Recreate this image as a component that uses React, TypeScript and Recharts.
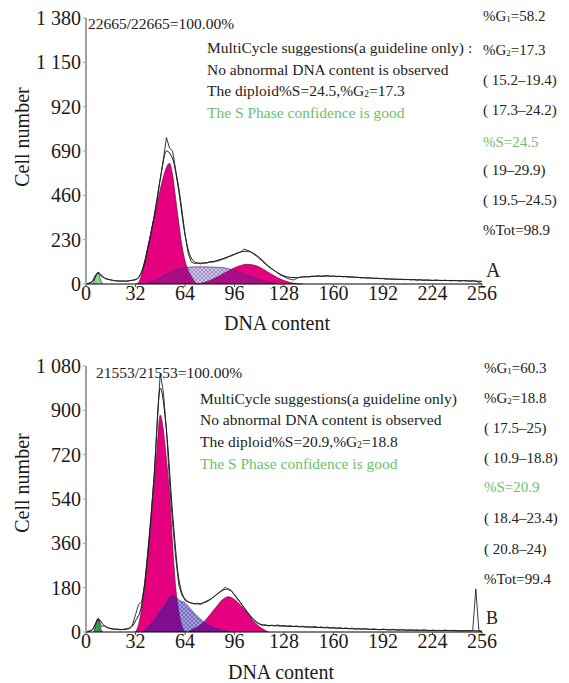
import React from 'react';
import { ComposedChart, Area, Line, XAxis, YAxis } from 'recharts';

// histogram values every 2 channels, fitted model every 4 channels
const HIST_STEP = 2;
const FIT_STEP = 4;

const X_TICKS = [0, 32, 64, 96, 128, 160, 192, 224, 256];
const Y_TICKS_A = [0, 230, 460, 690, 920, 1150, 1380];
const Y_TICKS_B = [0, 180, 360, 540, 720, 900, 1080];

const histA = [
  2, 4, 12, 45, 62, 38, 32, 26, 21, 18, 16, 14, 16, 13, 17, 20,
  24, 32, 62, 105, 185, 265, 345, 435, 545, 645, 760, 705, 690, 590, 500, 385,
  260, 160, 115, 106, 110, 104, 112, 108, 117, 113, 118, 121, 128, 132, 140, 146,
  153, 160, 167, 181, 176, 170, 158, 146, 132, 118, 102, 90, 78, 68, 56, 46,
  38, 30, 24, 21, 28, 35, 37, 39, 36, 41, 40, 43, 39, 42, 44, 40,
  42, 38, 41, 37, 39, 35, 38, 34, 35, 31, 33, 30, 32, 28, 31, 27,
  29, 25, 27, 24, 26, 23, 25, 22, 24, 21, 23, 20, 22, 19, 21, 20,
  18, 21, 19, 17, 20, 18, 16, 19, 17, 15, 18, 16, 14, 17, 15, 8,
  0,
];

const fitA = [
  0, 12, 58, 30, 21, 16, 15, 17, 22, 65, 190, 350, 545, 690, 650, 480,
  255, 135, 108, 108, 113, 120, 130, 142, 155, 166, 170, 160, 138, 108, 80, 58,
  42, 34, 33, 36, 38, 40, 41, 41, 40, 39, 38, 36, 34, 32, 31, 29,
  28, 26, 25, 24, 23, 22, 21, 20, 19, 19, 18, 18, 17, 17, 16, 15,
  14,
];

type Pair = [number, number];

const g1A: Pair[] = [
  [32, 0], [34, 8], [36, 50], [38, 115], [40, 190], [42, 268], [44, 345], [46, 420],
  [48, 490], [50, 555], [52, 605], [54, 626], [56, 565], [58, 440], [60, 315],
  [62, 200], [64, 120], [66, 72], [68, 40], [70, 15], [72, 0],
];
const sA: Pair[] = [
  [36, 0], [40, 5], [44, 16], [48, 32], [52, 50], [56, 64], [60, 76], [64, 84],
  [68, 88], [72, 89], [76, 89], [80, 88], [84, 87], [88, 85], [92, 79], [96, 70],
  [100, 58], [104, 46], [108, 34], [112, 23], [116, 14], [120, 7], [124, 2], [128, 0],
];
const g2A: Pair[] = [
  [72, 0], [76, 7], [80, 18], [84, 32], [88, 50], [92, 68], [96, 84], [100, 96],
  [104, 102], [108, 99], [112, 88], [116, 70], [120, 50], [124, 32], [128, 18],
  [132, 8], [136, 2], [140, 0],
];
const debrisA: Pair[] = [[4, 0], [5, 8], [6, 32], [7, 55], [8, 62], [9, 30], [10, 8], [11, 0]];

const histB = [
  2, 3, 8, 30, 55, 22, 26, 18, 13, 10, 12, 9, 11, 13, 16, 28,
  70, 112, 122, 200, 330, 470, 630, 840, 1050, 975, 820, 610, 440, 300, 190, 150,
  128, 122, 118, 114, 117, 112, 120, 126, 132, 140, 150, 160, 170, 182, 172, 166,
  150, 132, 118, 100, 82, 66, 50, 40, 32, 27, 30, 24, 28, 25, 29, 24,
  27, 23, 26, 22, 25, 21, 24, 20, 22, 19, 23, 18, 21, 17, 20, 16,
  19, 15, 18, 14, 17, 13, 16, 12, 15, 11, 14, 12, 10, 13, 11, 9,
  12, 10, 8, 11, 9, 7, 10, 8, 6, 9, 7, 8, 6, 9, 7, 5,
  8, 6, 7, 5, 8, 6, 5, 7, 5, 6, 4, 6, 5, 6, 175, 4,
  0,
];

const fitB = [
  0, 8, 52, 24, 14, 11, 10, 14, 45, 110, 320, 630, 990, 820, 480, 215,
  135, 118, 114, 118, 130, 150, 168, 175, 152, 118, 84, 54, 34, 27, 26, 25,
  24, 23, 22, 21, 20, 19, 18, 17, 16, 15, 14, 13, 12, 12, 11, 10,
  10, 9, 9, 8, 8, 7, 7, 7, 6, 6, 6, 6, 5, 5, 5, 5,
  4,
];

const g1B: Pair[] = [
  [32, 0], [34, 30], [36, 95], [38, 180], [40, 310], [42, 440], [44, 590], [46, 750],
  [48, 881], [50, 820], [52, 700], [54, 560], [56, 350], [58, 180], [60, 80],
  [62, 25], [64, 0],
];
const sB: Pair[] = [
  [36, 0], [40, 20], [44, 50], [48, 85], [52, 120], [56, 150], [58, 142], [60, 130],
  [64, 118], [68, 90], [72, 64], [76, 42], [80, 26], [84, 15], [88, 8], [92, 3], [96, 0],
];
const g2B: Pair[] = [
  [66, 0], [68, 8], [72, 20], [76, 40], [80, 69], [84, 100], [88, 130], [92, 143],
  [96, 132], [100, 108], [104, 78], [108, 46], [112, 22], [116, 6], [118, 0],
];
const debrisB: Pair[] = [[5, 0], [6, 20], [7, 50], [8, 56], [9, 25], [10, 5], [11, 0]];

const MAGENTA = '#e4007f';
const GREEN_TEXT = '#6cc06c';
const SERIF = '"Liberation Serif", "DejaVu Serif", serif';
const NOTE_SIZE = 15.5;

function buildTable(hist: number[], fit: number[], g1: Pair[], s: Pair[], g2: Pair[], debris: Pair[]) {
  const rows = new Map<number, any>();
  const row = (ch: number) => {
    if (!rows.has(ch)) rows.set(ch, { ch });
    return rows.get(ch);
  };
  hist.forEach((v, i) => (row(i * HIST_STEP).hist = v));
  fit.forEach((v, i) => (row(i * FIT_STEP).fit = v));
  g1.forEach(([c, v]) => (row(c).g1 = v));
  s.forEach(([c, v]) => (row(c).s = v));
  g2.forEach(([c, v]) => (row(c).g2 = v));
  debris.forEach(([c, v]) => (row(c).debris = v));
  return [...rows.values()].sort((a, b) => a.ch - b.ch);
}

const tableA = buildTable(histA, fitA, g1A, sA, g2A, debrisA);
const tableB = buildTable(histB, fitB, g1B, sB, g2B, debrisB);

function fmtY(v: number): string {
  if (v >= 1000) return `${Math.floor(v / 1000)} ${String(v % 1000).padStart(3, '0')}`;
  return String(v);
}

const Sub = ({ children }: { children: React.ReactNode }) => (
  <span style={{ fontSize: '0.6em', verticalAlign: '-0.1em' }}>{children}</span>
);

function Note({ x, y, size = NOTE_SIZE, color = '#222', children }: any) {
  return (
    <div
      style={{
        position: 'absolute', left: x, top: y - size / 2, fontSize: size, lineHeight: `${size}px`,
        color, whiteSpace: 'nowrap', fontFamily: SERIF,
      }}
    >
      {children}
    </div>
  );
}

interface PanelProps {
  data: any[];
  yMax: number;
  yTicks: number[];
  top: number;
  bottom: number;
  hatch: string;
  debrisColor: string;
}

function Panel({ data, yMax, yTicks, top, bottom, hatch, debrisColor }: PanelProps) {
  const tick = { fontSize: 20, fill: '#1a1a1a', fontFamily: SERIF };
  return (
    <div style={{ position: 'absolute', left: 0, top: 0 }}>
      <ComposedChart width={569} height={341} data={data} margin={{ top, right: 87, bottom, left: 26 }}>
        <XAxis
          dataKey="ch"
          type="number"
          domain={[0, 256]}
          ticks={X_TICKS}
          interval={0}
          height={30}
          tick={tick}
          tickSize={3}
          tickMargin={-1}
          axisLine={{ stroke: '#000', strokeWidth: 1 }}
          tickLine={{ stroke: '#555' }}
        />
        <YAxis
          type="number"
          domain={[0, yMax]}
          ticks={yTicks}
          interval={0}
          width={60}
          tick={tick}
          tickFormatter={fmtY}
          tickSize={3}
          tickMargin={2}
          axisLine={{ stroke: '#a0a0a0', strokeWidth: 2 }}
          tickLine={{ stroke: '#a0a0a0' }}
        />
        <Area dataKey="debris" type="linear" fill={debrisColor} fillOpacity={1} stroke="#2a2a2a" strokeWidth={0.7} connectNulls isAnimationActive={false} dot={false} activeDot={false} />
        <Area dataKey="g1" type="monotone" fill={MAGENTA} fillOpacity={1} stroke="#6a0a45" strokeWidth={0.7} connectNulls isAnimationActive={false} dot={false} activeDot={false} />
        <Area dataKey="g2" type="monotone" fill={MAGENTA} fillOpacity={1} stroke="#6a0a45" strokeWidth={0.7} connectNulls isAnimationActive={false} dot={false} activeDot={false} />
        <Area dataKey="s" type="monotone" fill={`url(#${hatch})`} fillOpacity={1} stroke="#4a2a7a" strokeWidth={0.7} connectNulls isAnimationActive={false} dot={false} activeDot={false} />
        <Line dataKey="fit" type="monotone" stroke="#111" strokeWidth={1} dot={false} activeDot={false} connectNulls isAnimationActive={false} />
        <Line dataKey="hist" type="linear" stroke="#222" strokeWidth={0.9} dot={false} activeDot={false} connectNulls isAnimationActive={false} />
      </ComposedChart>
    </div>
  );
}

const axisTitle: React.CSSProperties = {
  position: 'absolute', fontSize: 20, whiteSpace: 'nowrap', color: '#1a1a1a', fontFamily: SERIF,
};

export default function App() {
  return (
    <div style={{ position: 'relative', width: 569, height: 683, background: '#fff', fontFamily: SERIF, overflow: 'hidden' }}>
      <style>{'body{margin:0}'}</style>
      <svg width={0} height={0} style={{ position: 'absolute' }}>
        <defs>
          <pattern id="hatchA" width={4} height={4} patternUnits="userSpaceOnUse">
            <rect width={4} height={4} fill="rgba(80,40,150,0.26)" />
            <path d="M0,4 L4,0 M0,0 L4,4" stroke="rgba(60,30,140,0.55)" strokeWidth={0.6} />
          </pattern>
          <pattern id="hatchB" width={4} height={4} patternUnits="userSpaceOnUse">
            <rect width={4} height={4} fill="rgba(40,30,170,0.42)" />
            <path d="M0,4 L4,0 M0,0 L4,4" stroke="rgba(30,20,140,0.6)" strokeWidth={0.6} />
          </pattern>
        </defs>
      </svg>

      {/* panel A */}
      <div style={{ position: 'absolute', left: 0, top: 0, width: 569, height: 341 }}>
        <Panel data={tableA} yMax={1380} yTicks={Y_TICKS_A} top={18} bottom={27} hatch="hatchA" debrisColor="#92d392" />
        <Note x={88} y={24}>22665/22665=100.00%</Note>
        <Note x={207} y={48}>MultiCycle suggestions(a guideline only) :</Note>
        <Note x={207} y={70}>No abnormal DNA content is observed</Note>
        <Note x={207} y={91}>The diploid%S=24.5,%G<Sub>2</Sub>=17.3</Note>
        <Note x={207} y={113} color={GREEN_TEXT}>The S Phase confidence is good</Note>
        <Note x={483} y={16} size={15}>%G<Sub>1</Sub>=58.2</Note>
        <Note x={483} y={50} size={15}>%G<Sub>2</Sub>=17.3</Note>
        <Note x={483} y={80} size={15}>( 15.2–19.4)</Note>
        <Note x={483} y={110} size={15}>( 17.3–24.2)</Note>
        <Note x={483} y={142} size={15} color={GREEN_TEXT}>%S=24.5</Note>
        <Note x={483} y={170} size={15}>( 19–29.9)</Note>
        <Note x={483} y={200} size={15}>( 19.5–24.5)</Note>
        <Note x={483} y={230} size={15}>%Tot=98.9</Note>
        <Note x={486} y={270} size={20}>A</Note>
        <div style={{ ...axisTitle, left: 277, top: 323, transform: 'translate(-50%,-50%)' }}>DNA content</div>
        <div style={{ ...axisTitle, left: 22, top: 137, transform: 'translate(-50%,-50%) rotate(-90deg)' }}>Cell number</div>
      </div>

      {/* panel B */}
      <div style={{ position: 'absolute', left: 0, top: 341, width: 569, height: 342 }}>
        <Panel data={tableB} yMax={1080} yTicks={Y_TICKS_B} top={25} bottom={20} hatch="hatchB" debrisColor="#2e9e4a" />
        <Note x={96} y={32}>21553/21553=100.00%</Note>
        <Note x={200} y={58}>MultiCycle suggestions(a guideline only)</Note>
        <Note x={200} y={79}>No abnormal DNA content is observed</Note>
        <Note x={200} y={101}>The diploid%S=20.9,%G<Sub>2</Sub>=18.8</Note>
        <Note x={200} y={123} color={GREEN_TEXT}>The S Phase confidence is good</Note>
        <Note x={484} y={27} size={15}>%G<Sub>1</Sub>=60.3</Note>
        <Note x={484} y={57} size={15}>%G<Sub>2</Sub>=18.8</Note>
        <Note x={484} y={87} size={15}>( 17.5–25)</Note>
        <Note x={484} y={117} size={15}>( 10.9–18.8)</Note>
        <Note x={484} y={146} size={15} color={GREEN_TEXT}>%S=20.9</Note>
        <Note x={484} y={177} size={15}>( 18.4–23.4)</Note>
        <Note x={484} y={208} size={15}>( 20.8–24)</Note>
        <Note x={484} y={238} size={15}>%Tot=99.4</Note>
        <Note x={486} y={277} size={18}>B</Note>
        <div style={{ ...axisTitle, left: 281, top: 331, transform: 'translate(-50%,-50%)' }}>DNA content</div>
        <div style={{ ...axisTitle, left: 22, top: 142, transform: 'translate(-50%,-50%) rotate(-90deg)' }}>Cell number</div>
      </div>
    </div>
  );
}
